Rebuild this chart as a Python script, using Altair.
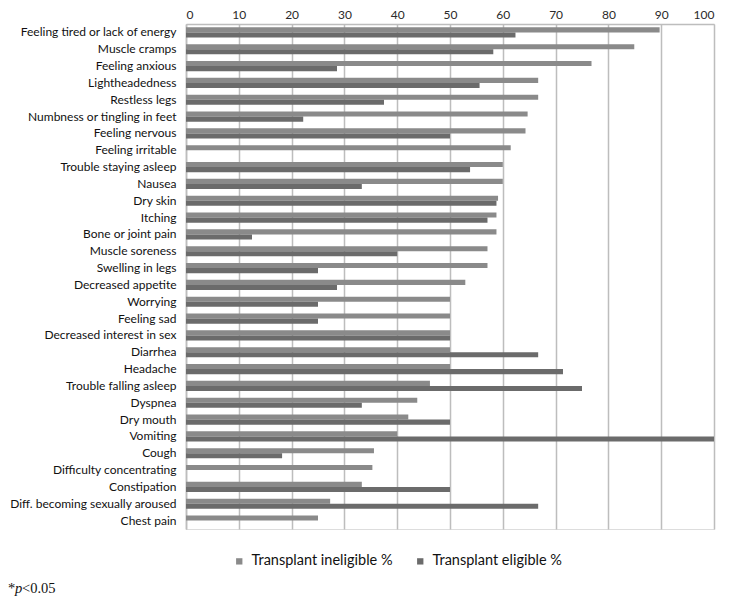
import altair as alt
import pandas as pd

symptoms = [
    "Feeling tired or lack of energy", "Muscle cramps", "Feeling anxious",
    "Lightheadedness", "Restless legs", "Numbness or tingling in feet",
    "Feeling nervous", "Feeling irritable", "Trouble staying asleep", "Nausea",
    "Dry skin", "Itching", "Bone or joint pain", "Muscle soreness",
    "Swelling in legs", "Decreased appetite", "Worrying", "Feeling sad",
    "Decreased interest in sex", "Diarrhea", "Headache",
    "Trouble falling asleep", "Dyspnea", "Dry mouth", "Vomiting", "Cough",
    "Difficulty concentrating", "Constipation",
    "Diff. becoming sexually aroused", "Chest pain",
]
ineligible = [89.7, 84.9, 76.8, 66.7, 66.7, 64.7, 64.3, 61.5, 60.0, 60.0,
              59.1, 58.8, 58.8, 57.1, 57.1, 52.9, 50.0, 50.0, 50.0, 50.0,
              50.0, 46.2, 43.8, 42.1, 40.0, 35.6, 35.3, 33.3, 27.3, 25.0]
eligible = [62.4, 58.2, 28.6, 55.6, 37.5, 22.2, 50.0, 0.0, 53.8, 33.3,
            58.8, 57.1, 12.5, 40.0, 25.0, 28.6, 25.0, 25.0, 50.0, 66.7,
            71.4, 75.0, 33.3, 50.0, 100.0, 18.2, 0.0, 50.0, 66.7, 0.0]
series = ["Transplant ineligible %", "Transplant eligible %"]
colors = ["#8a8a8a", "#6b6b6b"]
ticks = list(range(0, 101, 10))

rows = []
for s, a, b in zip(symptoms, ineligible, eligible):
    rows.append({"symptom": s, "series": series[0], "value": a})
    rows.append({"symptom": s, "series": series[1], "value": b})
df = pd.DataFrame(rows)

FONT = "Lato"
GRID = "#bdbdbd"

bars = alt.Chart(df).mark_bar().encode(
    x=alt.X("value:Q",
            scale=alt.Scale(domain=[0, 100], nice=False, zero=True),
            axis=alt.Axis(orient="top", values=ticks, ticks=False, grid=True,
                          gridColor=GRID, gridWidth=1.5, domainColor=GRID,
                          domainWidth=1.5, labelFont=FONT, labelFontSize=12,
                          labelColor="#2a2a2a", labelPadding=3, title=None)),
    y=alt.Y("symptom:N", sort=symptoms,
            scale=alt.Scale(paddingInner=0.4, paddingOuter=0.2),
            axis=alt.Axis(ticks=False, grid=False, labelPadding=10,
                          domainColor=GRID, domainWidth=1.5, labelFont=FONT,
                          labelFontSize=12, labelColor="#111111",
                          labelLimit=400, title=None)),
    yOffset=alt.YOffset("series:N", sort=series),
    color=alt.Color("series:N",
                    scale=alt.Scale(domain=series, range=colors),
                    legend=alt.Legend(orient="none", legendX=46, legendY=530,
                                      direction="horizontal", title=None,
                                      symbolType="square", symbolSize=40,
                                      symbolStrokeWidth=0,
                                      columnPadding=20, labelOffset=5,
                                      labelFont=FONT, labelFontSize=14.5,
                                      labelColor="#111111", padding=0)),
)

TXT = dict(font="Liberation Serif", fontSize=14.5, align="left",
           baseline="alphabetic", color="#111111")
star = alt.Chart(pd.DataFrame({"t": ["*"]})).mark_text(**TXT).encode(
    x=alt.value(-178), y=alt.value(569), text="t:N")
pchar = alt.Chart(pd.DataFrame({"t": ["p"]})).mark_text(
    fontStyle="italic", **TXT).encode(
    x=alt.value(-171), y=alt.value(569), text="t:N")
rest = alt.Chart(pd.DataFrame({"t": ["<0.05"]})).mark_text(**TXT).encode(
    x=alt.value(-164), y=alt.value(569), text="t:N")

chart = alt.layer(bars, star, pchar, rest).properties(
    width=528, height=505,
    autosize=alt.AutoSizeParams(type="none"),
    padding={"left": 178, "top": 16, "right": 11, "bottom": 69},
).configure_view(strokeWidth=0).configure(background="white")

chart.save("out.html", embed_options={"renderer": "svg", "actions": False})
